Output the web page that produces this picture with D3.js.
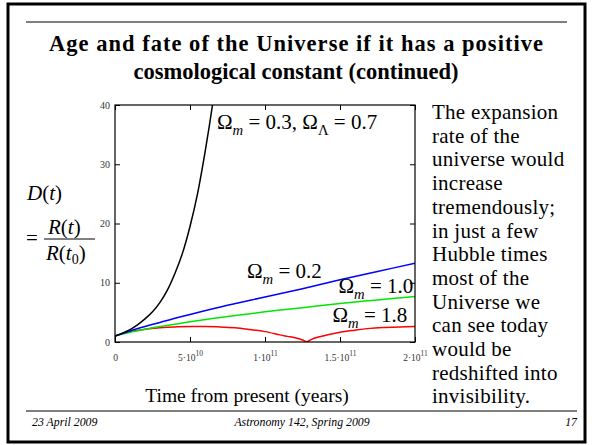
<!DOCTYPE html>
<html lang="en">
<head>
<meta charset="utf-8">
<title>Age and fate of the Universe</title>
<script src="https://d3js.org/d3.v7.min.js"></script>
<style>
  body { margin: 0; background: #fff; }
  svg text { font-family: "Liberation Serif", "Times New Roman", serif; }
</style>
</head>
<body>
<div id="chart"></div>
<script>
// time from present, years
var tBlack = [0, 5e9, 10e9, 15e9, 20e9, 25e9, 30e9, 35e9, 40e9, 45e9, 50e9, 55e9, 60e9, 65e9, 70e9]
var dBlack = [1.0, 1.5, 2.1, 2.9, 3.9, 5.1, 6.7, 8.8, 11.6, 15.0, 19.5, 25, 32, 40, 49.5]

var tLinear = [0, 10e9, 20e9, 30e9, 40e9, 50e9, 75e9, 100e9, 125e9, 150e9, 175e9, 200e9]
var dBlue = [1.0, 1.85, 2.6, 3.3, 4.0, 4.65, 6.2, 7.6, 9.0, 10.5, 11.9, 13.3]
var dGreen = [1.0, 1.65, 2.15, 2.6, 3.0, 3.4, 4.3, 5.1, 5.8, 6.5, 7.1, 7.7]

var tRed = [0, 5e9, 10e9, 20e9, 30e9, 40e9, 50e9, 60e9, 70e9, 80e9, 90e9, 100e9, 110e9, 115e9, 120e9, 125e9, 128e9,
            131e9, 135e9, 140e9, 150e9, 160e9, 170e9, 180e9, 190e9, 200e9]
var dRed = [1.0, 1.45, 1.75, 2.15, 2.4, 2.55, 2.6, 2.6, 2.55, 2.4, 2.1, 1.75, 1.2, 0.95, 0.7, 0.35, 0.05,
            0.45, 0.8, 1.1, 1.65, 2.0, 2.3, 2.45, 2.55, 2.6]

var xTicks = [0, 5e10, 1e11, 1.5e11, 2e11]
var xTickBase = ["0", "5\u00b710", "1\u00b710", "1.5\u00b710", "2\u00b710"]
var xTickExp = ["", "10", "11", "11", "11"]
var yTicks = [0, 10, 20, 30, 40]

var bodyLines = ["The expansion", "rate of the", "universe would", "increase", "tremendously;",
  "in just a few", "Hubble times", "most of the", "Universe we", "can see today",
  "would be", "redshifted into", "invisibility."]

var width = 592, height = 445
var svg = d3.select("#chart").append("svg")
  .attr("width", width).attr("height", height)

svg.append("rect").attr("width", width).attr("height", height).attr("fill", "#fff")
// slide frame
svg.append("rect").attr("x", 8).attr("y", 4).attr("width", 577).attr("height", 438)
  .attr("fill", "none").attr("stroke", "#000").attr("stroke-width", 3)
svg.append("line").attr("x1", 26).attr("x2", 567).attr("y1", 22).attr("y2", 22)
  .attr("stroke", "#000").attr("stroke-width", 1.2)
svg.append("line").attr("x1", 26).attr("x2", 577).attr("y1", 411).attr("y2", 411)
  .attr("stroke", "#000").attr("stroke-width", 1.2)

// title
var title = svg.append("text").attr("text-anchor", "middle")
  .attr("font-size", 22.5).attr("font-weight", "bold")
title.append("tspan").attr("x", 296).attr("y", 51).attr("textLength", 494).attr("lengthAdjust", "spacing")
  .text("Age and fate of the Universe if it has a positive")
title.append("tspan").attr("x", 296).attr("y", 79)
  .text("cosmological constant (continued)")

// footer
svg.append("text").attr("x", 32).attr("y", 426).attr("font-size", 11.8).attr("font-style", "italic")
  .text("23 April 2009")
svg.append("text").attr("x", 302).attr("y", 426).attr("font-size", 11.8).attr("font-style", "italic")
  .attr("text-anchor", "middle").text("Astronomy 142, Spring 2009")
svg.append("text").attr("x", 577).attr("y", 426).attr("font-size", 11.8).attr("font-style", "italic")
  .attr("text-anchor", "end").text("17")

// right column text
var body = svg.append("text").attr("font-size", 21).attr("letter-spacing", 0.25)
bodyLines.forEach(function(s, i) {
  body.append("tspan").attr("x", 432).attr("y", 119 + i * 23.7).text(s)
})

// plot
var x = d3.scaleLinear().domain([0, 2e11]).range([115, 415])
var y = d3.scaleLinear().domain([0, 40]).range([342, 105])

svg.append("clipPath").attr("id", "plotclip").append("rect")
  .attr("x", 115).attr("y", 105).attr("width", 300).attr("height", 237)

var line = d3.line().x(function(d) { return x(d[0]) }).y(function(d) { return y(d[1]) })
  .curve(d3.curveCatmullRom)

var series = [
  { t: tRed, d: dRed, color: "#ff0000" },
  { t: tLinear, d: dGreen, color: "#00e600" },
  { t: tLinear, d: dBlue, color: "#0000ff" },
  { t: tBlack, d: dBlack, color: "#000000" }
]
svg.append("g").attr("clip-path", "url(#plotclip)")
  .selectAll("path").data(series).enter().append("path")
  .attr("d", function(s) { return line(d3.zip(s.t, s.d)) })
  .attr("fill", "none")
  .attr("stroke", function(s) { return s.color })
  .attr("stroke-width", 1.5)

// axes with inward ticks on all four sides
var gx = svg.append("g").attr("transform", "translate(0,342)")
  .call(d3.axisBottom(x).tickValues(xTicks).tickSizeInner(-5).tickSizeOuter(0).tickPadding(12).tickFormat(""))
svg.append("g").attr("transform", "translate(0,105)")
  .call(d3.axisTop(x).tickValues(xTicks).tickSizeInner(-5).tickSizeOuter(0).tickFormat(""))
var gy = svg.append("g").attr("transform", "translate(115,0)")
  .call(d3.axisLeft(y).tickValues(yTicks).tickSizeInner(-5).tickSizeOuter(0).tickPadding(5))
svg.append("g").attr("transform", "translate(415,0)")
  .call(d3.axisRight(y).tickValues(yTicks).tickSizeInner(-5).tickSizeOuter(0).tickFormat(""))
svg.selectAll(".domain").remove()
svg.selectAll(".tick line").attr("stroke", "#000")

gy.selectAll("text").attr("font-family", "Liberation Serif, serif").attr("font-size", 10).attr("fill", "#333")

gx.selectAll(".tick text").each(function(d, i) {
  var t = d3.select(this).attr("font-family", "Liberation Serif, serif").attr("font-size", 9.5).attr("fill", "#333")
  t.text(null)
  t.append("tspan").text(xTickBase[i])
  if (xTickExp[i]) t.append("tspan").attr("dy", "-0.6em").attr("font-size", 7.5).text(xTickExp[i])
})

svg.append("rect").attr("x", 115).attr("y", 105).attr("width", 300).attr("height", 237)
  .attr("fill", "none").attr("stroke", "#000").attr("stroke-width", 1.2)

// curve labels: segments of [text, kind] where kind is "" or "sub" / "subi"
function mathLabel(px, py, size, parts) {
  var t = svg.append("text").attr("x", px).attr("y", py).attr("font-size", size)
  var shifted = false
  parts.forEach(function(p) {
    var s = t.append("tspan").text(p[0])
    if (p[1]) {
      s.attr("font-size", size * 0.7).attr("dy", size * 0.28)
      if (p[1] == "subi") s.attr("font-style", "italic")
      shifted = true
    } else if (shifted) {
      s.attr("dy", -size * 0.28)
      shifted = false
    }
  })
}
mathLabel(x(68e9), y(35.9), 21, [["\u03a9", ""], ["m", "subi"], [" = 0.3, \u03a9", ""], ["\u039b", "sub"], [" = 0.7", ""]])
mathLabel(x(88e9), y(10.8), 21, [["\u03a9", ""], ["m", "subi"], [" = 0.2", ""]])
mathLabel(x(149e9), y(8.3), 21, [["\u03a9", ""], ["m", "subi"], [" = 1.0", ""]])
mathLabel(x(145e9), y(3.4), 21, [["\u03a9", ""], ["m", "subi"], [" = 1.8", ""]])

// y-axis title D(t) = R(t)/R(t0)
var yl = svg.append("g").attr("font-size", 21)
var dt = yl.append("text").attr("x", 27).attr("y", 200)
dt.append("tspan").attr("font-style", "italic").text("D")
dt.append("tspan").text("(")
dt.append("tspan").attr("font-style", "italic").text("t")
dt.append("tspan").text(")")
yl.append("text").attr("x", 26).attr("y", 245).text("=")
var num = yl.append("text").attr("x", 48).attr("y", 234)
num.append("tspan").attr("font-style", "italic").text("R")
num.append("tspan").text("(")
num.append("tspan").attr("font-style", "italic").text("t")
num.append("tspan").text(")")
yl.append("line").attr("x1", 44).attr("x2", 95).attr("y1", 239).attr("y2", 239)
  .attr("stroke", "#000").attr("stroke-width", 1)
var den = yl.append("text").attr("x", 46).attr("y", 260)
den.append("tspan").attr("font-style", "italic").text("R")
den.append("tspan").text("(")
den.append("tspan").attr("font-style", "italic").text("t")
den.append("tspan").attr("font-size", 14).attr("dy", 4).text("0")
den.append("tspan").attr("dy", -4).text(")")

// x-axis title
svg.append("text").attr("x", 247).attr("y", 402).attr("text-anchor", "middle")
  .attr("font-size", 19.5).text("Time from present (years)")
</script>
</body>
</html>
